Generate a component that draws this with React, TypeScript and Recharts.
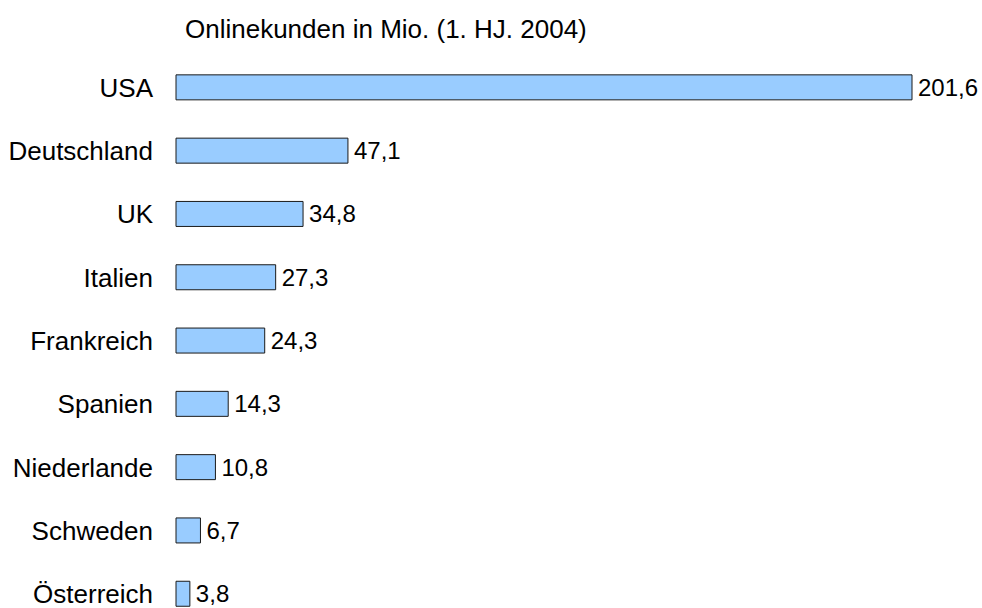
import React from 'react';
import { BarChart, Bar, XAxis, YAxis, LabelList } from 'recharts';

const categories = ['USA', 'Deutschland', 'UK', 'Italien', 'Frankreich', 'Spanien', 'Niederlande', 'Schweden', 'Österreich'];
const values = [201.6, 47.1, 34.8, 27.3, 24.3, 14.3, 10.8, 6.7, 3.8];
const title = 'Onlinekunden in Mio. (1. HJ. 2004)';

const data = categories.map((name, i) => ({ name, value: values[i] }));
const FONT = '"Liberation Sans", Arial, sans-serif';

export default function App() {
  return (
    <div style={{ position: 'absolute', left: 0, top: 0, width: 982, height: 608, overflow: 'hidden', background: '#fff', fontFamily: FONT }}>
      <div style={{ position: 'absolute', left: 185, top: 14, fontSize: 26, color: '#000', whiteSpace: 'nowrap', lineHeight: '30px' }}>{title}</div>
      <BarChart
        layout="vertical"
        width={982}
        height={640}
        data={data}
        margin={{ top: 55.85, right: 70, bottom: 14.45, left: 0 }}
        barCategoryGap={0}
      >
        <XAxis type="number" domain={[0, 201.6]} hide />
        <YAxis
          type="category"
          dataKey="name"
          width={176}
          axisLine={false}
          tickLine={false}
          tickSize={0}
          tickMargin={23}
          interval={0}
          tick={{ fill: '#000', fontSize: 26, fontFamily: FONT }}
        />
        <Bar dataKey="value" fill="#99CCFF" stroke="#1a1a1a" strokeWidth={1} barSize={25} isAnimationActive={false}>
          <LabelList
            dataKey="value"
            position="right"
            offset={6}
            formatter={(v: any) => String(v).replace('.', ',')}
            style={{ fill: '#000', fontSize: 24, fontFamily: FONT }}
          />
        </Bar>
      </BarChart>
    </div>
  );
}
